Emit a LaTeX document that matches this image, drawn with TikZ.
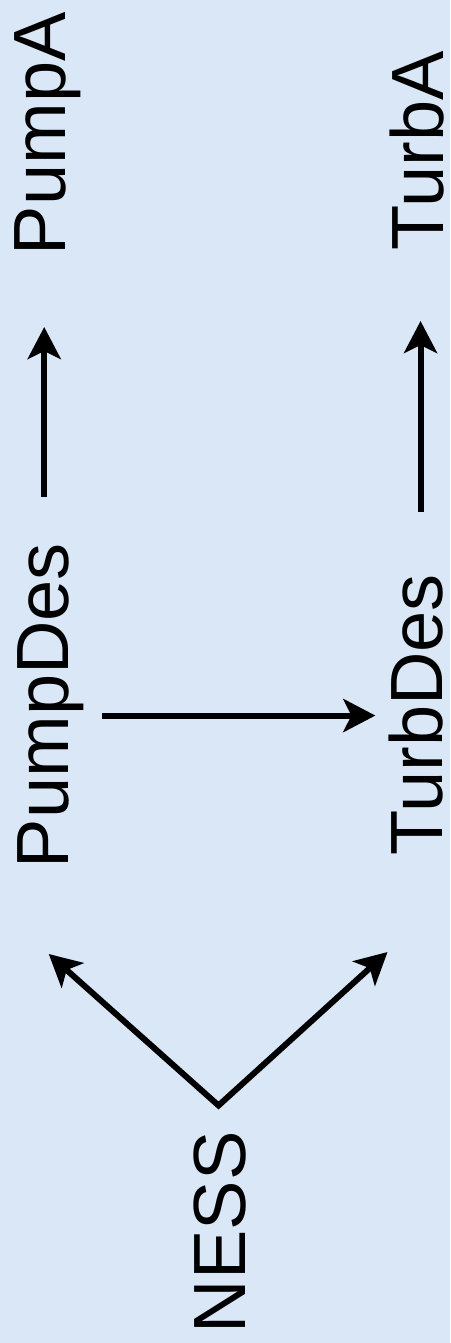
\documentclass[tikz,border=0pt]{standalone}
\usepackage{fontspec}
\setmainfont{Liberation Sans}
\usetikzlibrary{arrows.meta,calc}

\definecolor{paper}{RGB}{218,231,246}

\tikzset{
  label text/.style={rotate=90, anchor=base west, inner sep=0pt, outer sep=0pt,
    font=\fontsize{74pt}{80pt}\selectfont},
  arr/.style={line width=6pt, line join=miter, -{Stealth[length=32pt, width=33pt, inset=8pt]}},
  arr2/.style={line width=6pt, line join=miter,
    {Stealth[length=32pt, width=33pt, inset=8pt]}-{Stealth[length=32pt, width=33pt, inset=8pt]}}
}

\begin{document}
\begin{tikzpicture}[x=1pt, y=-1pt]
  % page and background
  \useasboundingbox (0,0) rectangle (450,1343);
  \fill[paper] (0,0) rectangle (450,1343);

  % labels, set upright along the page
  \node[label text] (PumpA)   at (65,255)   {PumpA};
  \node[label text] (PumpDes) at (68,868)   {PumpDes};
  \node[label text] (TurbA)   at (443,250)  {TurbA};
  \node[label text] (TurbDes) at (442,855)  {TurbDes};
  \node[label text] (NESS)    at (245,1333) {NESS};

  % connector starts next to the labels
  \coordinate (pd-up)    at ($(PumpDes.east)+(-6,-46)$);
  \coordinate (td-up)    at ($(TurbDes.east)+(5,-62)$);
  \coordinate (pd-right) at ($(PumpDes.south)+(19,10)$);
  \coordinate (fork)     at ($(NESS.east)+(-1,-26)$);

  % design to equipment
  \draw[arr] (pd-up) -- ($(pd-up |- PumpA.west)+(0,72)$);
  \draw[arr] (td-up) -- ($(td-up |- TurbA.west)+(0,71)$);

  % pump design feeds turbine design
  \draw[arr] (pd-right) -- ($(pd-right -| TurbDes.north)+(-13,0)$);

  % NESS forks to both designs
  \draw[arr2] ($(PumpDes.west)+(-1.5,86)$) -- (fork) -- ($(TurbDes.west)+(-28,97)$);
\end{tikzpicture}
\end{document}
